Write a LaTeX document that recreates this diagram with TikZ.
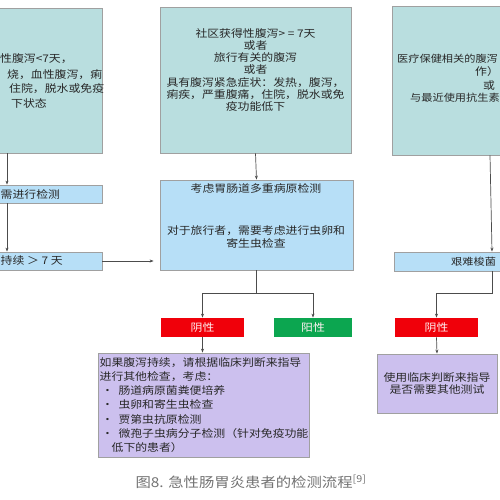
\documentclass[tikz,border=0pt]{standalone}
\usepackage{fontspec}
\setmainfont{Noto Sans CJK SC}[FakeStretch=1.13]
\usepackage{tikz}
\usetikzlibrary{arrows.meta,positioning}

\definecolor{tealbox}{RGB}{185,222,223}
\definecolor{testblue}{RGB}{183,223,247}
\definecolor{negred}{RGB}{240,0,10}
\definecolor{posgreen}{RGB}{12,166,80}
\definecolor{advpurple}{RGB}{204,192,238}
\definecolor{boxline}{RGB}{160,160,160}
\definecolor{txt}{RGB}{40,40,40}

\begin{document}
\begin{tikzpicture}[
      x=1pt,y=-1pt,
      font=\fontsize{10.5}{12.3}\selectfont,
      >=Stealth,
      box/.style={draw=boxline,line width=0.8pt,inner sep=1pt,text=txt,align=center},
      entry/.style={box,fill=tealbox},
      test/.style={box,fill=testblue},
      result/.style={box,draw=none,text=white!80!pink,minimum width=83pt,minimum height=19pt},
      advice/.style={box,fill=advpurple},
      txtline/.style={text=txt,inner sep=0pt,anchor=west},
      edgeline/.style={txtline,font=\fontsize{9.9}{12}\selectfont},
      arrow/.style={-{Stealth[length=4pt,width=3pt]},draw=black!70,line width=0.7pt},
      link/.style={draw=black!70,line width=0.7pt}
    ]
      \fill[white] (0,0) rectangle (500,500);
      \useasboundingbox (0,0) rectangle (500,500);
      \clip (0,0) rectangle (500,500);

      % entry boxes
      \node[entry,minimum width=190pt,minimum height=145pt] (topL) at (7,80.5) {};
      \node[entry,minimum width=191pt,minimum height=146pt] (topM) at (255.5,80) {};
      \node[entry,minimum width=196pt,minimum height=149pt] (topR) at (490,80.5) {};

      \node[txtline] (topLa) at (0,59) {性腹泻<7天，};
      \node[txtline] (topLb) at (7,75) {烧，血性腹泻，痢};
      \node[txtline] (topLc) at (9,89) {住院，脱水或免疫};
      \node[txtline] (topLd) at (11,103) {下状态};

      \node[text=txt,align=center,inner sep=0pt] (topMtxt) at (255.5,70)
        {社区获得性腹泻> = 7天\\或者\\旅行有关的腹泻\\或者\\具有腹泻紧急症状：发热，腹泻，\\痢疾，严重腹痛，住院，脱水或免\\疫功能低下};

      \node[edgeline] (topRa) at (397,59) {医疗保健相关的腹泻};
      \node[txtline] (topRb) at (475,72) {作）};
      \node[txtline] (topRc) at (483,86) {或};
      \node[edgeline] (topRd) at (410,98) {与最近使用抗生素};

      % test boxes
      \node[test,minimum width=190pt,minimum height=18pt] (needL) at (7,194) {};
      \node[txtline] at (0.5,194) {需进行检测};
      \node[test,minimum width=190pt,minimum height=18pt] (contL) at (7,261) {};
      \node[txtline] at (0.5,261) {持续 ＞ 7 天};

      \node[test,minimum width=193pt,minimum height=90pt] (mid) at (256.5,225) {};
      \node[text=txt,inner sep=0pt] (midA) at (256,188) {考虑胃肠道多重病原检测};
      \node[text=txt,align=center,inner sep=0pt] (midB) at (256,237) {对于旅行者，需要考虑进行虫卵和\\寄生虫检查};

      \node[test,minimum width=196pt,minimum height=19pt] (cdiff) at (492,261.5) {};
      \node[edgeline] at (451,261.5) {艰难梭菌};

      % results
      \node[result,fill=negred] (negM) at (202.5,327.5) {阴性};
      \node[result,fill=posgreen,minimum width=78pt] (posM) at (313,327.5) {阳性};
      \node[result,fill=negred] (negR) at (436.5,327.5) {阴性};

      % advice
      \node[advice,minimum width=208pt,minimum height=104pt,align=left,
        font=\fontsize{10.5}{14.2}\selectfont] (advM) at (204,405)
        {如果腹泻持续，请根据临床判断来指导\\进行其他检查，考虑：\\
         \hspace*{2pt}•\hspace{5pt}肠道病原菌粪便培养\\
         \hspace*{2pt}•\hspace{5pt}虫卵和寄生虫检查\\
         \hspace*{2pt}•\hspace{5pt}贾第虫抗原检测\\
         \hspace*{2pt}•\hspace{5pt}微孢子虫病分子检测（针对免疫功能\\
         \hspace*{12pt}低下的患者）};
      \node[advice,minimum width=120pt,minimum height=59pt,
        font=\fontsize{10.5}{12}\selectfont] (advR) at (437,383.5) {使用临床判断来指导\\是否需要其他测试};

      % connectors
      \draw[arrow] (topL.south) -- (needL.north);
      \draw[arrow] (needL.south) -- (contL.north);
      \draw[arrow] (contL.east) -- ([xshift=-6pt]contL.east -| mid.west);
      \draw[arrow] (topM.south) -- (mid.north);
      \coordinate (splitM) at (mid.south |- 0,293);
      \draw[link] (mid.south) -- (splitM);
      \draw[arrow] (splitM) -| (negM.north);
      \draw[arrow] (splitM) -| (posM.north);
      \draw[arrow] (negM.south) -- (negM.south |- advM.north);

      \draw[arrow] (topR.south) -- (cdiff.north);
      \draw[arrow] (cdiff.south) -- ++(0,22) -| (negR.north);
      \draw[arrow] (negR.south) -- (advR.north);

      \node[text=black!55,font=\fontsize{13.6}{16}\selectfont] (caption) at (251,482)
        {图8. 急性肠胃炎患者的检测流程\textsuperscript{[9]}};
    \end{tikzpicture}
\end{document}
